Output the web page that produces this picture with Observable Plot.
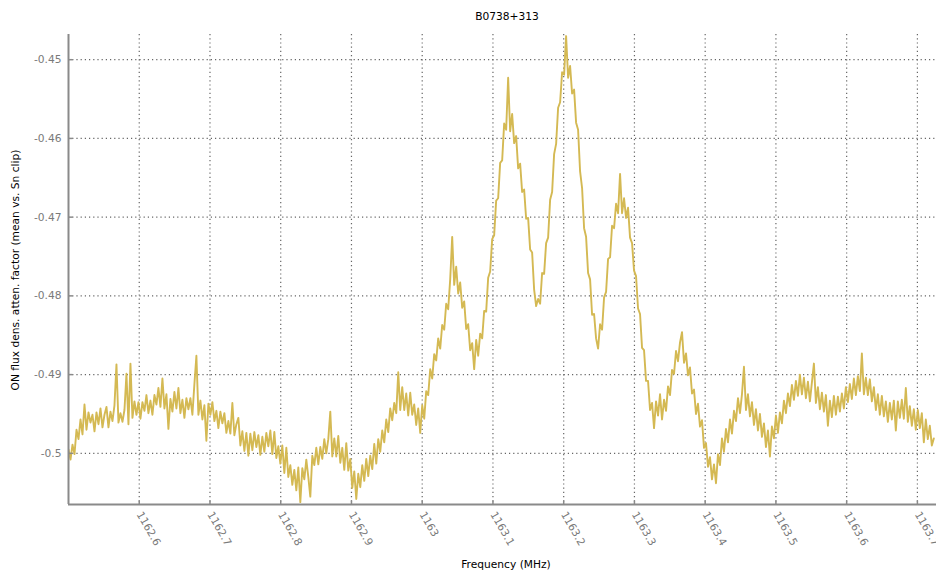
<!DOCTYPE html>
<html>
<head>
<meta charset="utf-8">
<script src="https://cdn.jsdelivr.net/npm/d3@7"></script>
<script src="https://cdn.jsdelivr.net/npm/@observablehq/plot@0.6"></script>
<style>
  body { margin: 0; background: #fff; font-family: "DejaVu Sans", sans-serif; }
  #wrap { position: relative; width: 936px; height: 574px; overflow: hidden; }
  .lbl { position: absolute; font-size: 10.67px; color: #000; white-space: nowrap; }
</style>
</head>
<body>
<div id="wrap">
  <div class="lbl" id="title" style="left:507px; top:10px; transform:translateX(-50%);">B0738+313</div>
  <div class="lbl" id="ylab" style="left:15px; top:270px; transform:translate(-50%,-50%) rotate(-90deg);">ON flux dens. atten. factor (mean vs. Sn clip)</div>
  <div class="lbl" id="xlab" style="left:506px; top:558px; transform:translateX(-50%);">Frequency (MHz)</div>
</div>
<script>
const title = "B0738+313";
const xLabel = "Frequency (MHz)";
const yLabel = "ON flux dens. atten. factor (mean vs. Sn clip)";

const xTicks = [1162.6, 1162.7, 1162.8, 1162.9, 1163, 1163.1, 1163.2, 1163.3, 1163.4, 1163.5, 1163.6, 1163.7];
const yTicks = [-0.5, -0.49, -0.48, -0.47, -0.46, -0.45];
const xDomain = [1162.5, 1163.727];
const yDomain = [-0.5065, -0.4468];

// channel frequencies: first and last channel (MHz)
const freqFirst = 1162.5;
const freqLast = 1163.7232;

// ON flux density attenuation factor
const flux = [
  // 1162.50 - 1162.60
  -0.4995,-0.5008,-0.4989,-0.5001,-0.4970,-0.4982,-0.4957,-0.4976,-0.4938,-0.4970,
  -0.4948,-0.4961,-0.4951,-0.4972,-0.4948,-0.4963,-0.4943,-0.4967,-0.4951,-0.4941,
  -0.4967,-0.4947,-0.4959,-0.4939,-0.4887,-0.4961,-0.4949,-0.4960,-0.4945,-0.4899,
  -0.4963,-0.4886,-0.4955,-0.4934,-0.4951,-0.4935,
  // 1162.60 - 1162.70
  -0.4956,-0.4935,-0.4946,-0.4926,-0.4949,-0.4933,-0.4951,-0.4926,-0.4938,-0.4917,
  -0.4941,-0.4905,-0.4943,-0.4925,-0.4969,-0.4931,-0.4947,-0.4922,-0.4943,-0.4917,
  -0.4949,-0.4932,-0.4955,-0.4930,-0.4944,-0.4930,-0.4951,-0.4912,-0.4876,-0.4951,
  -0.4933,-0.4957,-0.4939,-0.4984,-0.4937,-0.4951,
  // 1162.70 - 1162.80
  -0.4935,-0.4959,-0.4946,-0.4968,-0.4947,-0.4962,-0.4949,-0.4974,-0.4959,-0.4975,
  -0.4936,-0.4977,-0.4963,-0.4955,-0.4990,-0.4972,-0.4997,-0.4974,-0.5003,-0.4975,
  -0.4996,-0.4973,-0.4992,-0.4977,-0.5002,-0.4979,-0.4998,-0.4974,-0.4991,-0.4971,
  -0.5001,-0.4973,-0.5006,-0.4991,-0.5013,
  // 1162.80 - 1162.90
  -0.4990,-0.5025,-0.4993,-0.5030,-0.5015,-0.5040,-0.5021,-0.5047,-0.5018,-0.5062,
  -0.5019,-0.5033,-0.5008,-0.5030,-0.5055,-0.5003,-0.5015,-0.4993,-0.5014,-0.4992,
  -0.5007,-0.4982,-0.5000,-0.4982,-0.4947,-0.5004,-0.4981,-0.5004,-0.4978,-0.5012,
  -0.4993,-0.5021,-0.4987,-0.5022,-0.5007,
  // 1162.90 - 1163.00
  -0.5044,-0.5023,-0.5058,-0.5026,-0.5043,-0.5015,-0.5035,-0.5007,-0.5029,-0.5003,
  -0.5020,-0.4988,-0.5013,-0.4982,-0.4998,-0.4971,-0.4986,-0.4957,-0.4973,-0.4943,
  -0.4958,-0.4936,-0.4949,-0.4897,-0.4945,-0.4916,-0.4945,-0.4924,-0.4952,-0.4923,
  -0.4951,-0.4938,-0.4964,-0.4943,-0.4974,
  // 1163.00 - 1163.10
  -0.4939,-0.4956,-0.4921,-0.4926,-0.4893,-0.4905,-0.4874,-0.4882,-0.4854,-0.4867,
  -0.4837,-0.4843,-0.4810,-0.4817,-0.4779,-0.4725,-0.4786,-0.4763,-0.4797,-0.4783,
  -0.4815,-0.4807,-0.4842,-0.4836,-0.4869,-0.4860,-0.4893,-0.4856,-0.4876,-0.4848,
  -0.4854,-0.4819,-0.4820,-0.4777,-0.4769,
  // 1163.10 - 1163.20
  -0.4728,-0.4723,-0.4679,-0.4676,-0.4631,-0.4628,-0.4581,-0.4589,-0.4523,-0.4591,
  -0.4569,-0.4606,-0.4597,-0.4638,-0.4632,-0.4668,-0.4665,-0.4702,-0.4701,-0.4741,
  -0.4745,-0.4792,-0.4813,-0.4804,-0.4810,-0.4771,-0.4772,-0.4733,-0.4726,-0.4678,
  -0.4668,-0.4620,-0.4607,-0.4561,-0.4554,
  // 1163.20 - 1163.30
  -0.4516,-0.4519,-0.4470,-0.4523,-0.4508,-0.4543,-0.4538,-0.4580,-0.4589,-0.4642,
  -0.4663,-0.4714,-0.4725,-0.4771,-0.4779,-0.4824,-0.4823,-0.4854,-0.4867,-0.4836,
  -0.4843,-0.4802,-0.4795,-0.4753,-0.4751,-0.4711,-0.4714,-0.4683,-0.4695,-0.4645,
  -0.4695,-0.4676,-0.4701,-0.4688,-0.4726,
  // 1163.30 - 1163.40
  -0.4733,-0.4768,-0.4775,-0.4816,-0.4823,-0.4866,-0.4869,-0.4908,-0.4908,-0.4945,
  -0.4936,-0.4968,-0.4934,-0.4952,-0.4925,-0.4957,-0.4932,-0.4946,-0.4915,-0.4926,
  -0.4894,-0.4899,-0.4870,-0.4883,-0.4859,-0.4846,-0.4885,-0.4873,-0.4901,-0.4891,
  -0.4924,-0.4919,-0.4950,-0.4937,-0.4966,
  // 1163.40 - 1163.50
  -0.4958,-0.4993,-0.4987,-0.5017,-0.5005,-0.5033,-0.5014,-0.5038,-0.5001,-0.5015,
  -0.4981,-0.4998,-0.4969,-0.4986,-0.4957,-0.4975,-0.4946,-0.4959,-0.4930,-0.4949,
  -0.4925,-0.4890,-0.4945,-0.4925,-0.4953,-0.4935,-0.4964,-0.4944,-0.4971,-0.4950,
  -0.4979,-0.4962,-0.4992,-0.4971,-0.5004,
  // 1163.50 - 1163.60
  -0.4966,-0.4981,-0.4952,-0.4974,-0.4948,-0.4962,-0.4933,-0.4949,-0.4924,-0.4940,
  -0.4913,-0.4932,-0.4908,-0.4927,-0.4900,-0.4925,-0.4904,-0.4930,-0.4909,-0.4934,
  -0.4910,-0.4886,-0.4936,-0.4916,-0.4944,-0.4923,-0.4947,-0.4926,-0.4965,-0.4933,
  -0.4954,-0.4927,-0.4951,-0.4928,-0.4947,
  // 1163.60 - 1163.72
  -0.4924,-0.4943,-0.4916,-0.4935,-0.4912,-0.4931,-0.4905,-0.4926,-0.4902,-0.4921,
  -0.4873,-0.4925,-0.4904,-0.4926,-0.4906,-0.4934,-0.4916,-0.4945,-0.4925,-0.4951,
  -0.4927,-0.4953,-0.4934,-0.4960,-0.4936,-0.4957,-0.4933,-0.4971,-0.4934,-0.4955,
  -0.4932,-0.4956,-0.4917,-0.4960,-0.4940,-0.4965,-0.4944,-0.4970,-0.4945,-0.4968,
  -0.4949,-0.4986,-0.4957,-0.4982,-0.4965,-0.4990,-0.4981
];

const step = (freqLast - freqFirst) / (flux.length - 1);
const data = flux.map((v, i) => ({freq: freqFirst + i * step, flux: v}));

const axisColor = "#8a8a8a";
const tickRight = {draw(ctx) { ctx.moveTo(0, 0); ctx.lineTo(4, 0); }};
const tickUp = {draw(ctx) { ctx.moveTo(0, 0); ctx.lineTo(0, -4); }};

const chart = Plot.plot({
  width: 936,
  height: 574,
  marginLeft: 68,
  marginRight: 0,
  marginTop: 34,
  marginBottom: 70,
  style: {fontFamily: "DejaVu Sans, sans-serif", fontSize: "10.67px", background: "white", overflow: "hidden"},
  x: {domain: xDomain, label: null},
  y: {domain: yDomain, label: null},
  marks: [
    Plot.gridX(xTicks, {stroke: "#555", strokeOpacity: 0.9, strokeDasharray: "1.2,3", strokeWidth: 1.2}),
    Plot.gridY(yTicks, {stroke: "#555", strokeOpacity: 0.9, strokeDasharray: "1.2,3", strokeWidth: 1.2}),
    Plot.line(data, {x: "freq", y: "flux", stroke: "#d4b953", strokeWidth: 1.9, clip: true}),
    Plot.ruleX([xDomain[0]], {stroke: axisColor, strokeWidth: 2}),
    Plot.ruleY([yDomain[0]], {stroke: axisColor, strokeWidth: 2}),
    Plot.dot(yTicks, {y: d => d, frameAnchor: "left", symbol: tickRight, stroke: axisColor, strokeWidth: 1.5, fill: "none"}),
    Plot.dot(xTicks, {x: d => d, frameAnchor: "bottom", symbol: tickUp, stroke: axisColor, strokeWidth: 1.5, fill: "none"}),
    Plot.axisY(yTicks, {tickSize: 0, tickPadding: 7, fill: "#7a7a7a", tickFormat: d => String(+d.toFixed(2)), label: null}),
    Plot.axisX(xTicks, {tickSize: 0, tickPadding: 8, tickRotate: 60, fill: "#7a7a7a", tickFormat: d => String(+d.toFixed(1)), label: null})
  ]
});
chart.style.position = "absolute";
chart.style.left = "0";
chart.style.top = "0";
document.getElementById("wrap").prepend(chart);
</script>
</body>
</html>
